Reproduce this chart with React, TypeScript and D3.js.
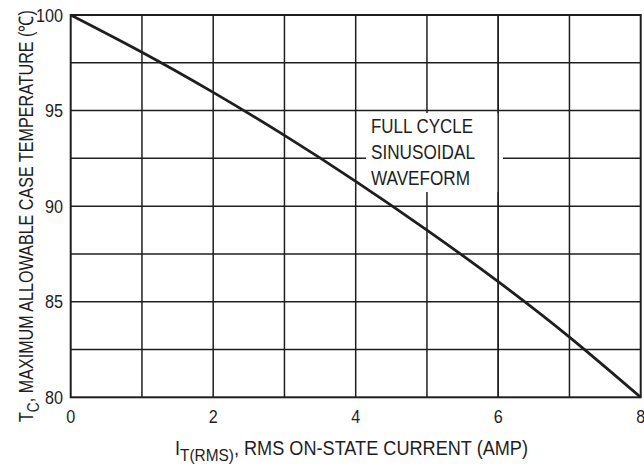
import React from 'react';
import * as d3 from 'd3';

// current (A) vs max case temperature (°C)
const currents = [0, 1, 2, 3, 4, 5, 6, 7, 8];
const temps = [100, 98.05, 95.95, 93.7, 91.3, 88.75, 86.05, 83.15, 80];
const xTicks = [0, 2, 4, 6, 8];
const yTicks = [80, 85, 90, 95, 100];
const xGrid = [1, 2, 3, 4, 5, 6, 7];
const yGrid = [82.5, 85, 87.5, 90, 92.5, 95, 97.5];
const noteLines = ['FULL CYCLE', 'SINUSOIDAL', 'WAVEFORM'];
const noteWidths = [102, 104, 99];

const W = 644;
const H = 472;
const FONT = '"Liberation Sans Narrow", "Arial Narrow", "Liberation Sans", Arial, sans-serif';

export default function App() {
  const x = d3.scaleLinear().domain([0, 8]).range([70.7, 640.7]);
  const y = d3.scaleLinear().domain([80, 100]).range([397.3, 15]);

  const line = d3
    .line<number>()
    .x((_, i) => x(currents[i]))
    .y((d) => y(d))
    .curve(d3.curveNatural);

  const ink = '#1e1e1e';
  const squeeze = 'spacingAndGlyphs';

  return (
    <svg
      width={W}
      height={H}
      style={{ position: 'absolute', left: 0, top: 0, background: '#fff' }}
      fontFamily={FONT}
    >
      {/* grid */}
      {yGrid.map((v) => (
        <line key={'h' + v} x1={x(0)} x2={x(8)} y1={y(v)} y2={y(v)} stroke={ink} strokeWidth={1.5} />
      ))}
      {xGrid.map((v) => (
        <line key={'v' + v} x1={x(v)} x2={x(v)} y1={y(80)} y2={y(100)} stroke={ink} strokeWidth={1.5} />
      ))}
      {/* note background hides grid behind text */}
      <rect x={366} y={113} width={137} height={79} fill="#fff" />
      <line x1={x(6)} x2={x(6)} y1={y(80)} y2={y(100)} stroke={ink} strokeWidth={1.5} />

      {/* frame */}
      <rect x={x(0)} y={y(100)} width={x(8) - x(0)} height={y(80) - y(100)} fill="none" stroke={ink} strokeWidth={2} />

      {/* curve */}
      <path d={line(temps) || ''} fill="none" stroke={ink} strokeWidth={2.8} />

      {/* note */}
      {noteLines.map((t, i) => (
        <text key={t} x={371} y={133 + i * 26} fontSize={21} fill={ink} textLength={noteWidths[i]} lengthAdjust={squeeze}>
          {t}
        </text>
      ))}

      {/* y ticks */}
      {yTicks.map((v) => (
        <text
          key={'yt' + v}
          x={63}
          y={y(v) + 6.5}
          fontSize={19}
          textAnchor="end"
          fill={ink}
          textLength={String(v).length * 9}
          lengthAdjust={squeeze}
        >
          {v}
        </text>
      ))}
      {/* x ticks */}
      {xTicks.map((v) => (
        <text
          key={'xt' + v}
          x={x(v)}
          y={423}
          fontSize={19}
          textAnchor="middle"
          fill={ink}
          textLength={9}
          lengthAdjust={squeeze}
        >
          {v}
        </text>
      ))}

      {/* x title */}
      <text x={175} y={455} fontSize={20} fill={ink} textLength={353} lengthAdjust={squeeze}>
        I<tspan fontSize={17} dy={6}>T(RMS)</tspan>
        <tspan dy={-6}>, RMS ON-STATE CURRENT (AMP)</tspan>
      </text>

      {/* y title */}
      <text transform="translate(33,422) rotate(-90)" fontSize={20} fill={ink} textLength={412} lengthAdjust={squeeze}>
        T<tspan fontSize={17} dy={6}>C</tspan>
        <tspan dy={-6}>, MAXIMUM ALLOWABLE CASE TEMPERATURE (℃)</tspan>
      </text>
    </svg>
  );
}
